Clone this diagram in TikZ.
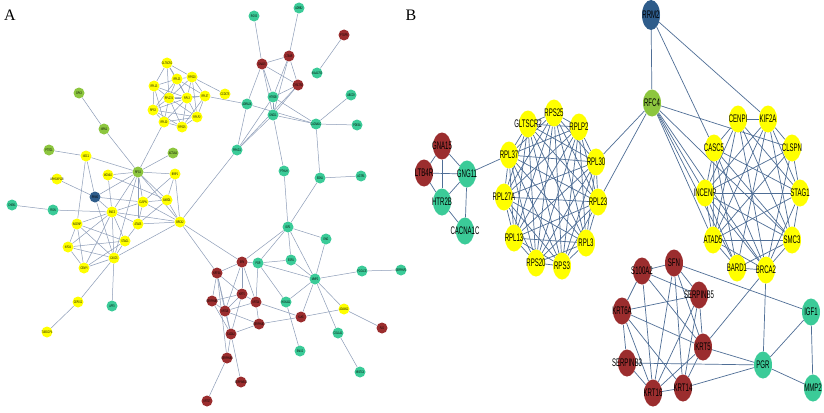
\documentclass[tikz,border=0pt]{standalone}
\usepackage{fontspec}
\setmainfont{Liberation Serif}
\newfontfamily\nodefont[FakeStretch=0.62]{Liberation Sans}
\newfontfamily\nodefontb[FakeStretch=0.55]{Liberation Sans}
\newcommand\myafont{\nodefont\fontsize{3.6}{4.3}\selectfont}
\newcommand\mybfont{\nodefontb\fontsize{11}{12}\selectfont}
\usetikzlibrary{shapes.geometric}
\pgfdeclarelayer{bg}
\pgfdeclarelayer{paper}
\pgfsetlayers{paper,bg,main}
\definecolor{cy}{HTML}{FFFF00}
\definecolor{cg}{HTML}{8DC63F}
\definecolor{ct}{HTML}{3BCB98}
\definecolor{cr}{HTML}{9B2D2E}
\definecolor{cb}{HTML}{2E5C8A}
\definecolor{aedgecol}{HTML}{8C9CB8}
\definecolor{bedgecol}{HTML}{4F6E96}
\tikzset{
 anode/.style={circle, draw=none, minimum size=11pt, inner sep=0pt,
   label={[font=\myafont, text=black, inner sep=0pt]center:#1}},
 bnode/.style={ellipse, draw=none, minimum width=18pt, minimum height=27pt, inner sep=0pt,
   label={[font=\mybfont, text=black, inner sep=0pt]center:#1}},
 aedge/.style={draw=aedgecol, line width=0.5pt},
 bedge/.style={draw=bedgecol, line width=0.7pt},
 paneltitle/.style={font=\fontsize{16}{16}\selectfont, inner sep=0pt},
}
\begin{document}
\begin{tikzpicture}[x=1pt,y=-1pt]
\begin{pgfonlayer}{paper}
\fill[white] (0,0) rectangle (824,412);
\end{pgfonlayer}
\useasboundingbox (0,0) rectangle (824,412);
\node[paneltitle] (tA) at (10,15) {A};
\node[paneltitle] (tB) at (411,15) {B};
% ---------------- Panel A nodes
\node[anode=GLTSCR2, fill=cy] (aGLT) at (167,63) {};
\node[anode=RPL23, fill=cy] (aL23) at (177,79) {};
\node[anode=RPS20, fill=cy] (aS20) at (192,77) {};
\node[anode=RPL13, fill=cy] (aL13) at (154,86) {};
\node[anode=RPL27A, fill=cy] (aL27) at (169,98) {};
\node[anode=RPL3, fill=cy] (aL3) at (187,98) {};
\node[anode=RPL37, fill=cy] (aL37) at (205,96) {};
\node[anode=RPS3, fill=cy] (aS3) at (153,110) {};
\node[anode=RPLP2, fill=cy] (aLP2) at (197,117) {};
\node[anode=RPL30, fill=cy] (aL30) at (164,122) {};
\node[anode=RPS25, fill=cy] (aS25) at (182,127) {};
\node[anode=CCDC75, fill=cy] (aCCD) at (225,94) {};
\node[anode=GPX3, fill=cg] (aGPX) at (79,93) {};
\node[anode=NRN1, fill=cg] (aNRN) at (104,129) {};
\node[anode=ACTL6A, fill=cg] (aACT) at (173,153) {};
\node[anode=PTTG1, fill=cg] (aPTT) at (49,150) {};
\node[anode=NDC1, fill=cy] (aNDC) at (86,156) {};
\node[anode=RFC4, fill=cg] (aRFC) at (138,172) {};
\node[anode=BRIP1, fill=cy] (aBRI) at (175,174) {};
\node[anode=MCM10, fill=cy] (aMCM) at (108,175) {};
\node[anode=ARHGAP11B, fill=cy] (aARH) at (57,179) {};
\node[anode=RRM2, fill=cb] (aRRM) at (95,197) {};
\node[anode=CLSPN, fill=cy] (aCLS) at (143,202) {};
\node[anode=BARD1, fill=cy] (aBAR) at (167,200) {};
\node[anode=CHEK1, fill=ct] (aCHK) at (12,205) {};
\node[anode=FIGN, fill=ct] (aFIG) at (53,210) {};
\node[anode=SMC3, fill=cy] (aSMC) at (112,212) {};
\node[anode=INCENP, fill=cy] (aINC) at (77,224) {};
\node[anode=ATAD5, fill=cy] (aATA) at (138,224) {};
\node[anode=BRCA2, fill=cy] (aBRC) at (180,222) {};
\node[anode=KIF2A, fill=cy] (aKIF) at (68,247) {};
\node[anode=STAG1, fill=cy] (aSTA) at (125,241) {};
\node[anode=CASC5, fill=cy] (aCAS) at (114,258) {};
\node[anode=CENPI, fill=cy] (aCEN) at (84,268) {};
\node[anode=CEP152, fill=cy] (aCEP) at (78,302) {};
\node[anode=AFF3, fill=ct] (aAFF) at (112,306) {};
\node[anode=TUBGCP4, fill=cy] (aTUB) at (47,332) {};
\node[anode=RGS5, fill=ct] (aRGS) at (254,16) {};
\node[anode=ADRB2, fill=ct] (aADB) at (299,8) {};
\node[anode=PTGFR, fill=cr] (aRx1) at (344,35) {};
\node[anode=LTB4R, fill=cr] (aLTB) at (289,56) {};
\node[anode=GNA15, fill=cr] (aGNA) at (262,64) {};
\node[anode=KIAA1755, fill=ct] (aKIA) at (317,73) {};
\node[anode=CYSLTR2, fill=cr] (aRx2) at (298,85) {};
\node[anode=HTR2B, fill=ct] (aHTR) at (273,97) {};
\node[anode=ADRA2A, fill=ct] (aADA) at (247,104) {};
\node[anode=GNG11, fill=ct] (aGNG) at (273,115) {};
\node[anode=ABCC9, fill=ct] (aABC) at (351,95) {};
\node[anode=CACNA1C, fill=ct] (aCAC) at (316,124) {};
\node[anode=PDE3A, fill=ct] (aDMD) at (357,125) {};
\node[anode=PRKG1, fill=ct] (aPRK) at (237,150) {};
\node[anode=PTHLH, fill=ct] (aPTH) at (284,171) {};
\node[anode=EDN1, fill=ct] (aEDN) at (320,178) {};
\node[anode=AGTR1, fill=ct] (aAGT) at (361,176) {};
\node[anode=IGF1, fill=ct] (aIGF) at (288,227) {};
\node[anode=ENG, fill=ct] (aENG) at (326,239) {};
\node[anode=SFN, fill=cr] (aSFN) at (242,262) {};
\node[anode=PGR, fill=ct] (aPGR) at (258,263) {};
\node[anode=ESR1, fill=ct] (aESR) at (291,260) {};
\node[anode=KRT6A, fill=cr] (aK6A) at (217,273) {};
\node[anode=MMP2, fill=ct] (aMMP) at (315,279) {};
\node[anode=PCOLCE, fill=ct] (aPCO) at (362,271) {};
\node[anode=SERPINF1, fill=ct] (aSPF) at (401,270) {};
\node[anode=SERPINB5, fill=cr] (aSB5) at (212,301) {};
\node[anode=KRT5, fill=cr] (aKR5) at (242,294) {};
\node[anode=KRT14, fill=cr] (aK14) at (256,302) {};
\node[anode=KRT16, fill=cr] (aK16) at (225,311) {};
\node[anode=HOXA11, fill=ct] (aHOX) at (286,302) {};
\node[anode=ADAM12, fill=cy] (aADM) at (344,309) {};
\node[anode=KLK5, fill=cr] (aRx3) at (301,317) {};
\node[anode=SERPINB3, fill=cr] (aSB3) at (259,324) {};
\node[anode=COL1A1, fill=ct] (aCOL) at (338,333) {};
\node[anode=S100A2, fill=cr] (aS10) at (231,334) {};
\node[anode=FLG, fill=cr] (aRx4) at (382,328) {};
\node[anode=EMX2, fill=ct] (aEMX) at (300,351) {};
\node[anode=SERPINB4, fill=cr] (aSB4) at (227,358) {};
\node[anode=SERPINB13, fill=cr] (aSB13) at (241,382) {};
\node[anode=NFATC4, fill=ct] (aNFA) at (360,372) {};
\node[anode=KRT17, fill=cr] (aK17) at (207,401) {};
% ---------------- Panel B nodes
\node[bnode=GNA15, fill=cr] (bGNA) at (442,146) {};
\node[bnode=LTB4R, fill=cr] (bLTB) at (424,173) {};
\node[bnode=GNG11, fill=ct] (bGNG) at (467,174) {};
\node[bnode=HTR2B, fill=ct] (bHTR) at (442,202) {};
\node[bnode=CACNA1C, fill=ct] (bCAC) at (465,231) {};
\node[bnode=RPL37, fill=cy] (bL37) at (509,155) {};
\node[bnode=GLTSCR2, fill=cy] (bGLT) at (528,124) {};
\node[bnode=RPS25, fill=cy] (bS25) at (554,113) {};
\node[bnode=RPLP2, fill=cy] (bLP2) at (579,127) {};
\node[bnode=RPL30, fill=cy] (bL30) at (596,162) {};
\node[bnode=RPL27A, fill=cy] (bL27) at (504,197) {};
\node[bnode=RPL23, fill=cy] (bL23) at (598,202) {};
\node[bnode=RPL13, fill=cy] (bL13) at (514,238) {};
\node[bnode=RPS20, fill=cy] (bS20) at (536,263) {};
\node[bnode=RPS3, fill=cy] (bS3) at (562,266) {};
\node[bnode=RPL3, fill=cy] (bL3) at (586,243) {};
\node[bnode=RRM2, fill=cb, minimum height=30pt] (bRRM) at (651,15) {};
\node[bnode=RFC4, fill=cg] (bRFC) at (652,103) {};
\node[bnode=CENPI, fill=cy] (bCEN) at (738,119) {};
\node[bnode=KIF2A, fill=cy] (bKIF) at (768,119) {};
\node[bnode=CASC5, fill=cy] (bCAS) at (714,148) {};
\node[bnode=CLSPN, fill=cy] (bCLS) at (792,148) {};
\node[bnode=INCENP, fill=cy] (bINC) at (705,193) {};
\node[bnode=STAG1, fill=cy] (bSTA) at (800,193) {};
\node[bnode=ATAD5, fill=cy] (bATA) at (713,240) {};
\node[bnode=SMC3, fill=cy] (bSMC) at (792,240) {};
\node[bnode=BARD1, fill=cy] (bBAR) at (737,268) {};
\node[bnode=BRCA2, fill=cy] (bBRC) at (766,270) {};
\node[bnode=S100A2, fill=cr] (bS10) at (642,271) {};
\node[bnode=SFN, fill=cr] (bSFN) at (674,263) {};
\node[bnode=SERPINB5, fill=cr] (bSB5) at (699,295) {};
\node[bnode=KRT6A, fill=cr] (bK6A) at (622,311) {};
\node[bnode=KRT5, fill=cr] (bKR5) at (703,347) {};
\node[bnode=SERPINB3, fill=cr] (bSB3) at (627,363) {};
\node[bnode=KRT16, fill=cr] (bK16) at (653,393) {};
\node[bnode=KRT14, fill=cr] (bK14) at (683,388) {};
\node[bnode=PGR, fill=ct] (bPGR) at (763,365) {};
\node[bnode=IGF1, fill=ct] (bIGF) at (811,312) {};
\node[bnode=MMP2, fill=ct] (bMMP) at (813,388) {};
% ---------------- edges
\begin{pgfonlayer}{bg}
\foreach \u/\v in {aGLT/aL23,aGLT/aL13,aGLT/aS20,aGLT/aL27,aGLT/aL3,aL23/aS20,aL23/aL13,aL23/aL27,aL23/aL3,aL23/aL37,aL23/aS3,
 aS20/aL37,aS20/aL3,aS20/aL27,aS20/aLP2,aS20/aCCD,aL13/aL27,aL13/aS3,aL13/aL3,aL13/aL30,aL27/aL3,aL27/aS3,aL27/aL30,aL27/aS25,
 aL27/aLP2,aL27/aL37,aL3/aL37,aL3/aLP2,aL3/aS25,aL3/aL30,aL3/aS3,aL37/aLP2,aL37/aS25,aS3/aL30,aS3/aS25,aL30/aS25,aL30/aLP2,
 aLP2/aS25,aS3/aLP2,aL37/aADA,
 aL30/aRFC,aGPX/aNRN,aNRN/aRFC,aPTT/aNDC,aNDC/aRFC,aACT/aRFC,aBRI/aRFC,aMCM/aRFC,aRRM/aRFC,aCLS/aRFC,aBAR/aRFC,aSMC/aRFC,
 aATA/aRFC,aBRC/aRFC,aCAS/aRFC,aARH/aRRM,aNDC/aRRM,aNDC/aINC,aMCM/aBAR,aMCM/aSMC,aBRI/aBAR,aBRI/aBRC,aBRI/aCLS,aBAR/aBRC,
 aBAR/aCLS,aBAR/aATA,aCLS/aSMC,aCLS/aATA,aCLS/aBRC,aRRM/aSMC,aRRM/aCLS,aRRM/aCAS,aCHK/aFIG,aFIG/aSMC,aSMC/aINC,aSMC/aATA,
 aSMC/aBRC,aSMC/aSTA,aSMC/aKIF,aSMC/aCAS,aSMC/aCEN,aINC/aKIF,aINC/aSTA,aINC/aCAS,aINC/aCEN,aKIF/aCAS,aKIF/aCEN,aKIF/aSTA,
 aSTA/aCAS,aSTA/aCEN,aCAS/aCEN,aATA/aBRC,aATA/aSTA,aCAS/aBRC,aCAS/aCEP,aCEP/aTUB,aCAS/aAFF,aBRC/aPRK,aBRC/aSFN,aBRC/aK6A,
 aRGS/aGNA,aADB/aLTB,aRx1/aKIA,aGNA/aLTB,aGNA/aRx2,aLTB/aRx2,aGNA/aHTR,aGNA/aGNG,aGNA/aADA,aLTB/aHTR,aLTB/aGNG,aRx2/aHTR,
 aRx2/aGNG,aRx2/aPRK,aHTR/aGNG,aHTR/aCAC,aGNG/aCAC,aADA/aCAC,aADA/aPRK,aPRK/aHTR,aPRK/aGNG,aABC/aCAC,aDMD/aCAC,aCAC/aEDN,
 aEDN/aAGT,aGNG/aPTH,aPTH/aIGF,aEDN/aIGF,
 aIGF/aSFN,aIGF/aPGR,aIGF/aESR,aIGF/aMMP,aIGF/aENG,aENG/aMMP,aPGR/aESR,aPGR/aMMP,aPGR/aHOX,aPGR/aSFN,aESR/aMMP,aMMP/aPCO,
 aPCO/aSPF,aMMP/aHOX,aMMP/aRx3,aMMP/aADM,aMMP/aCOL,aADM/aRx4,aRx3/aADM,aRx3/aK14,aRx3/aSB3,aCOL/aNFA,aHOX/aEMX,aSFN/aK6A,
 aSFN/aKR5,aSFN/aK14,aSFN/aK16,aK6A/aSB5,aK6A/aK16,aK6A/aKR5,aK6A/aS10,aSB5/aKR5,aSB5/aK16,aSB5/aS10,aKR5/aK16,aKR5/aK14,
 aKR5/aS10,aK14/aK16,aK14/aSB3,aK16/aS10,aK16/aSB3,aS10/aSB3,aS10/aSB4,aS10/aSB13,aSB4/aK17,aSB4/aK6A,aPGR/aK14}
 \draw[aedge] (\u) -- (\v);
\foreach \u/\v in {bGNA/bLTB,bGNA/bGNG,bGNA/bHTR,bLTB/bGNG,bLTB/bHTR,bGNG/bHTR,bGNG/bCAC,bHTR/bCAC,bGNG/bL37,
 bL37/bGLT,bL37/bS25,bL37/bLP2,bL37/bL30,bL37/bL27,bL37/bL23,bL37/bL13,bL37/bS20,bL37/bS3,bL37/bL3,
 bGLT/bS25,bGLT/bLP2,bGLT/bL30,bGLT/bL27,bGLT/bL23,bGLT/bL13,bGLT/bS20,bGLT/bS3,bGLT/bL3,
 bS25/bLP2,bS25/bL30,bS25/bL27,bS25/bL23,bS25/bL13,bS25/bS20,bS25/bS3,bS25/bL3,
 bLP2/bL30,bLP2/bL27,bLP2/bL23,bLP2/bL13,bLP2/bS20,bLP2/bS3,bLP2/bL3,
 bL30/bL27,bL30/bL23,bL30/bL13,bL30/bS20,bL30/bS3,bL30/bL3,
 bL27/bL23,bL27/bL13,bL27/bS20,bL27/bS3,bL27/bL3,
 bL23/bL13,bL23/bS20,bL23/bS3,bL23/bL3,bL13/bS20,bL13/bS3,bL13/bL3,bS20/bS3,bS20/bL3,bS3/bL3,
 bRRM/bRFC,bRRM/bCAS,bRRM/bKIF,bRFC/bL30,bRFC/bL23,bRFC/bCLS,bRFC/bINC,bRFC/bATA,bRFC/bBAR,bRFC/bBRC,bRFC/bSMC,
 bCEN/bKIF,bCEN/bCAS,bCEN/bINC,bCEN/bSTA,bCEN/bSMC,bCEN/bATA,bCEN/bBRC,bKIF/bCLS,bKIF/bINC,bKIF/bSTA,bKIF/bSMC,
 bKIF/bATA,bKIF/bBAR,bCAS/bINC,bCAS/bSTA,bCAS/bSMC,bCAS/bATA,bCAS/bBAR,bCAS/bBRC,bCLS/bINC,bCLS/bATA,bCLS/bBRC,
 bCLS/bSTA,bINC/bSTA,bINC/bSMC,bINC/bATA,bINC/bBAR,bINC/bBRC,bSTA/bATA,bSTA/bSMC,bSTA/bBRC,bATA/bSMC,bATA/bBAR,
 bATA/bBRC,bSMC/bBRC,bSMC/bBAR,bBAR/bBRC,bBRC/bPGR,bBRC/bKR5,
 bS10/bSFN,bS10/bSB5,bS10/bK6A,bS10/bK16,bS10/bKR5,bSFN/bSB5,bSFN/bKR5,bSFN/bK16,bSFN/bK14,bSFN/bIGF,bSB5/bK6A,
 bSB5/bKR5,bSB5/bK14,bSB5/bK16,bK6A/bKR5,bK6A/bSB3,bK6A/bK16,bK6A/bK14,bKR5/bPGR,bKR5/bK14,bKR5/bK16,bSB3/bPGR,
 bSB3/bK16,bK16/bK14,bK14/bPGR,bPGR/bIGF,bPGR/bMMP,bIGF/bMMP}
 \draw[bedge] (\u) -- (\v);
\end{pgfonlayer}
\end{tikzpicture}
\end{document}
